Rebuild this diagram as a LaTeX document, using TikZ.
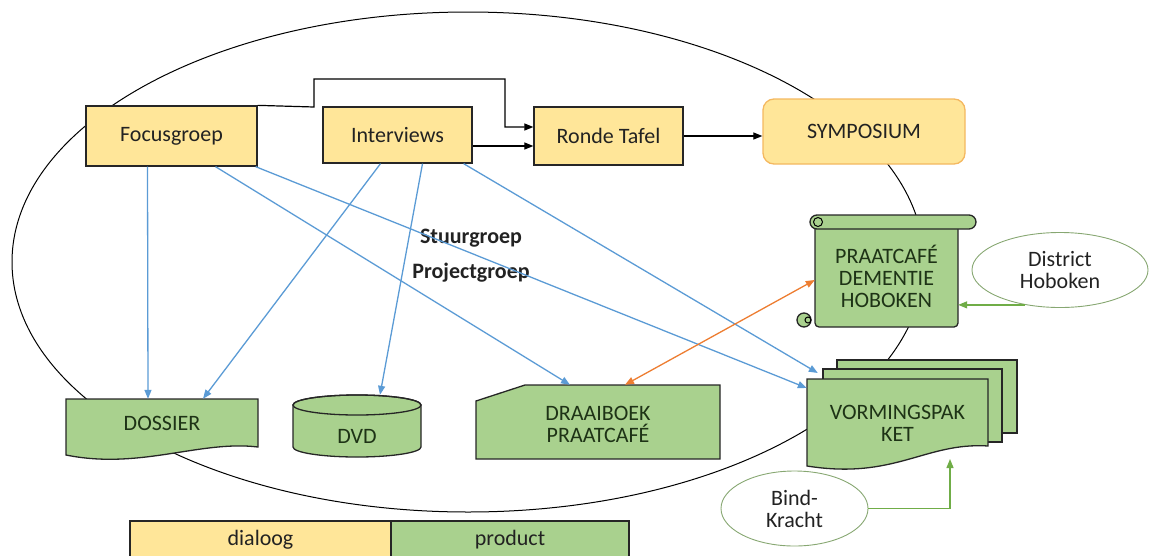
\documentclass[tikz,border=0pt]{standalone}
\usepackage{fontspec}
\setmainfont{Carlito}
\usetikzlibrary{arrows.meta,shapes.geometric}
\definecolor{dialoogfill}{HTML}{FFE699}
\definecolor{productfill}{HTML}{A9D18E}
\definecolor{linkblue}{HTML}{5B9BD5}
\definecolor{linkorange}{HTML}{ED7D31}
\definecolor{linkgreen}{HTML}{70AD47}
\definecolor{symborder}{HTML}{F4B860}
\definecolor{darktext}{HTML}{222222}
\definecolor{prodink}{HTML}{1E3316}
\begin{document}
\begin{tikzpicture}[x=1pt,y=-1pt,
   font=\fontsize{22}{22}\selectfont, text=darktext,
   dialoogbox/.style={draw=black!85,fill=dialoogfill,line width=1.3pt},
   prodshape/.style={draw=black!85,fill=productfill,line width=1.3pt},
   prodtext/.style={align=center,inner sep=0pt,text=prodink},
   outlinebubble/.style={draw=productfill!80!black,ellipse,line width=0.9pt},
   blacklink/.style={draw=black,line width=1.2pt,-{Triangle[length=9pt,width=7pt]}},
   bluelink/.style={draw=linkblue,line width=1.3pt,-{Triangle[length=9pt,width=7pt]}},
   greenlink/.style={draw=linkgreen,line width=1.3pt,-{Triangle[length=9pt,width=7pt]}}]
   \clip (0,0) rectangle (1151,555);

   \draw[line width=1pt] (468,262) ellipse [x radius=456, y radius=250];

   \node[dialoogbox,minimum width=171pt,minimum height=60pt] (focus) at (171.5,136) {Focusgroep};
   \node[dialoogbox,minimum width=149pt,minimum height=56pt] (interviews) at (397.5,135) {Interviews};
   \node[dialoogbox,minimum width=149pt,minimum height=58pt] (ronde) at (608.5,136) {Ronde Tafel};
   \node[draw=symborder,fill=dialoogfill,line width=1.3pt,rounded corners=11pt,
      minimum width=202pt,minimum height=65pt] (symp) at (864,131.5) {SYMPOSIUM};

   \filldraw[prodshape,rounded corners=4pt] (815,221) -- (815,327) -- (958,327) -- (958,221);
   \filldraw[prodshape,rounded corners=7pt] (810,215) rectangle (976,229);
   \draw[line width=1pt] (818,222) circle (4.5);
   \filldraw[prodshape] (804,320) circle (7);
   \draw[line width=1pt] (808,320) circle (3);
   \node[prodtext,font=\fontsize{22}{22}\selectfont,minimum width=143pt,minimum height=100pt]
      (praat) at (886.5,276) {PRAATCAFÉ\\DEMENTIE\\HOBOKEN};
   \node[outlinebubble,minimum width=176pt,minimum height=75pt,align=center] (district)
      at (1060,270) {District\\Hoboken};

   \filldraw[prodshape] (837,360) -- (1017,360) -- (1017,433) -- (837,433) -- cycle;
   \filldraw[prodshape] (823,369) -- (1002,369) -- (1002,442) -- (823,442) -- cycle;
   \filldraw[prodshape] (807,379) -- (988,379) -- (988,446)
      .. controls (925,442) and (895,480) .. (807,466) -- cycle;
   \node[prodtext,minimum width=181pt,minimum height=88pt] (vorm) at (897.5,423) {VORMINGSPAK\\KET};
   \coordinate (vormwave) at (950,459);
   \node[outlinebubble,minimum width=147pt,minimum height=75pt,align=center] (bind)
      at (794.5,508.5) {Bind-\\Kracht};

   \filldraw[prodshape] (66,399) -- (258,399) -- (258,447)
      .. controls (200,440) and (140,470) .. (66,455) -- cycle;
   \node[prodtext,minimum width=192pt,minimum height=48pt] (dossier) at (162,423) {DOSSIER};

   \filldraw[prodshape] (293,405) -- (293,447) arc[start angle=180,end angle=0,x radius=64,y radius=10]
      -- (421,405) arc[start angle=0,end angle=-180,x radius=64,y radius=10] -- cycle;
   \draw[line width=1.3pt,black!85] (357,405) ellipse [x radius=64, y radius=10];
   \node[prodtext,minimum width=128pt,minimum height=82pt] (dvd) at (357,436) {DVD};

   \filldraw[prodshape] (476,401) -- (525,385) -- (720,385) -- (720,459) -- (476,459) -- cycle;
   \node[prodtext,minimum width=244pt,minimum height=78pt] (draai) at (598,424) {DRAAIBOEK\\PRAATCAFÉ};

   \node[font=\fontsize{22}{22}\bfseries] (stuur) at (471,238) {Stuurgroep};
   \node[font=\fontsize{22}{22}\bfseries] (project) at (471,273) {Projectgroep};

   \draw[blacklink] (focus.north east) -- (314,107) -- (314,79) -- (505,79) -- (505,127)
      -- ([yshift=9pt]ronde.west);
   \draw[blacklink] ([yshift=-11pt]interviews.east) -- ([yshift=-10pt]ronde.west);
   \draw[blacklink] (ronde.east) -- (symp.west |- ronde.east);

   \draw[bluelink] ([xshift=-24pt]focus.south) -- ([xshift=-14pt]dossier.north);
   \draw[bluelink] ([xshift=44pt]focus.south) -- ([xshift=-28pt]draai.north);
   \draw[bluelink] ([xshift=-2pt]focus.south east) -- ([yshift=35pt]vorm.west);
   \draw[bluelink] ([xshift=-17pt]interviews.south) -- ([xshift=41pt]dossier.north);
   \draw[bluelink] ([xshift=25pt]interviews.south) -- ([xshift=23pt]dvd.north);
   \draw[bluelink] ([xshift=-9pt]interviews.south east) -- ([xshift=11pt,yshift=50pt]vorm.west);

   \draw[draw=linkorange,line width=1.3pt,{Triangle[length=9pt,width=7pt]}-{Triangle[length=9pt,width=7pt]}]
      ([xshift=27pt]draai.north) -- ([yshift=-4pt]praat.west);
   \draw[greenlink] (district.225) -- (praat.east |- district.225);
   \draw[greenlink] (bind.east) -| (vormwave);

   \node[dialoogbox,minimum width=261pt,minimum height=44pt,text depth=11pt] (dialoog) at (260.5,543) {dialoog};
   \node[prodshape,minimum width=238pt,minimum height=44pt,text depth=11pt] (product) at (510,543) {product};
\end{tikzpicture}
\end{document}
